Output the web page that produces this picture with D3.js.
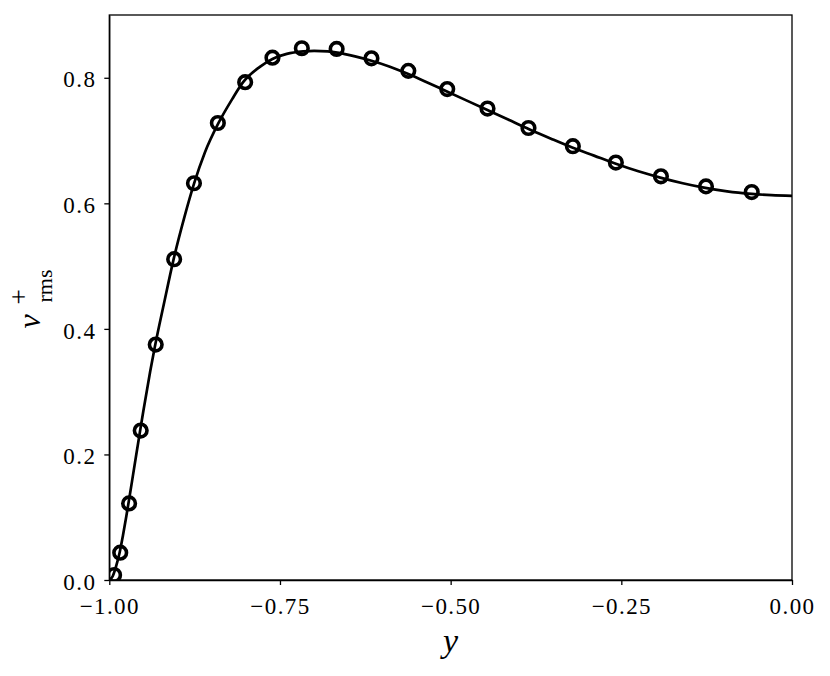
<!DOCTYPE html>
<html>
<head>
<meta charset="utf-8">
<script src="https://cdn.jsdelivr.net/npm/d3@7"></script>
<style>
  body { margin: 0; background: white; }
  svg { display: block; }
  .tick text { font-family: "Liberation Serif", serif; font-size: 23px; letter-spacing: 1.4px; fill: black; }
  .axis path, .axis line { stroke: black; stroke-width: 1.3px; }
</style>
</head>
<body>
<div id="chart"></div>
<script>
// DNS-like profile: solid line (reference), circles (model)
var lineY = [-1.000, -0.995, -0.990, -0.985, -0.980, -0.975, -0.970, -0.965, -0.960, -0.955,
             -0.950, -0.940, -0.933, -0.920, -0.906, -0.890, -0.876, -0.860, -0.840, -0.820,
             -0.804, -0.780, -0.761, -0.740, -0.716, -0.700, -0.680, -0.666, -0.640, -0.616,
             -0.590, -0.562, -0.535, -0.507, -0.477, -0.447, -0.415, -0.385, -0.353, -0.322,
             -0.290, -0.258, -0.225, -0.193, -0.160, -0.129, -0.095, -0.059, -0.030, 0.000];
var lineV = [0.000, 0.006, 0.022, 0.043, 0.071, 0.102, 0.135, 0.169, 0.203, 0.237,
             0.270, 0.333, 0.373, 0.440, 0.510, 0.578, 0.631, 0.681, 0.728, 0.766,
             0.793, 0.817, 0.830, 0.838, 0.842, 0.843, 0.842, 0.840, 0.834, 0.827,
             0.818, 0.806, 0.793, 0.779, 0.764, 0.749, 0.733, 0.718, 0.703, 0.689,
             0.676, 0.663, 0.651, 0.641, 0.632, 0.625, 0.619, 0.615, 0.613, 0.612];

var markY = [-0.993, -0.984, -0.971, -0.954, -0.932, -0.905, -0.876, -0.841, -0.801, -0.761,
             -0.718, -0.667, -0.616, -0.562, -0.505, -0.446, -0.386, -0.321, -0.258, -0.192,
             -0.126, -0.059];
var markV = [0.008, 0.0435, 0.122, 0.238, 0.375, 0.511, 0.632, 0.728, 0.793, 0.832,
             0.847, 0.846, 0.831, 0.811, 0.782, 0.751, 0.720, 0.691, 0.665, 0.643,
             0.627, 0.618];

var xTicks = [-1.00, -0.75, -0.50, -0.25, 0.00];
var yTicks = [0.0, 0.2, 0.4, 0.6, 0.8];

var margin = {top: 15, left: 109.3, right: 38, bottom: 96},
    width = 830 - margin.left - margin.right,
    height = 676 - margin.top - margin.bottom;

var svg = d3.select("#chart").append("svg")
    .attr("width", 830)
    .attr("height", 676);

var g = svg.append("g")
    .attr("transform", "translate(" + margin.left + "," + margin.top + ")");

var x = d3.scaleLinear().domain([-1, 0]).range([0, width]);
var y = d3.scaleLinear().domain([0, 0.9]).range([height, 0]);

g.append("clipPath").attr("id", "clip")
  .append("rect").attr("width", width).attr("height", height);

var plot = g.append("g").attr("clip-path", "url(#clip)");

var line = d3.line()
    .x(function(d) { return x(d[0]); })
    .y(function(d) { return y(d[1]); })
    .curve(d3.curveMonotoneX);

plot.append("path")
    .datum(d3.zip(lineY, lineV))
    .attr("fill", "none")
    .attr("stroke", "black")
    .attr("stroke-width", 2.7)
    .attr("d", line);

plot.selectAll("circle")
    .data(d3.zip(markY, markV))
    .enter().append("circle")
    .attr("cx", function(d) { return x(d[0]); })
    .attr("cy", function(d) { return y(d[1]); })
    .attr("r", 6.3)
    .attr("fill", "none")
    .attr("stroke", "black")
    .attr("stroke-width", 3.6);

// axes
var xAxis = d3.axisBottom(x).tickValues(xTicks).tickFormat(d3.format(".2f"))
    .tickSize(5).tickSizeOuter(0).tickPadding(12.5);
var yAxis = d3.axisLeft(y).tickValues(yTicks).tickFormat(d3.format(".1f"))
    .tickSize(5).tickSizeOuter(0).tickPadding(8);

g.append("g").attr("class", "axis")
    .attr("transform", "translate(0," + height + ")")
    .call(xAxis);

g.append("g").attr("class", "axis")
    .call(yAxis)
    .selectAll("text").attr("dy", "0.4em");

// frame
g.append("rect")
    .attr("width", width).attr("height", height)
    .attr("fill", "none").attr("stroke", "black").attr("stroke-width", 1.3);

// x label
svg.append("text")
    .attr("x", margin.left + width / 2)
    .attr("y", 652)
    .attr("text-anchor", "middle")
    .style("font-family", "Liberation Serif, serif")
    .style("font-style", "italic")
    .style("font-size", "34px")
    .text("y");

// y label: v with superscript + and subscript rms
var yl = svg.append("g")
    .attr("transform", "translate(39.5," + (margin.top + height / 2) + ") rotate(-90)")
    .style("font-family", "Liberation Serif, serif");

yl.append("text")
    .attr("x", -31).attr("y", 0)
    .style("font-style", "italic")
    .style("font-size", "32px")
    .text("v");

yl.append("text")
    .attr("x", -7).attr("y", -12)
    .style("font-size", "27px")
    .text("+");

yl.append("text")
    .attr("x", -5).attr("y", 12)
    .style("font-size", "22px")
    .text("rms");
</script>
</body>
</html>
